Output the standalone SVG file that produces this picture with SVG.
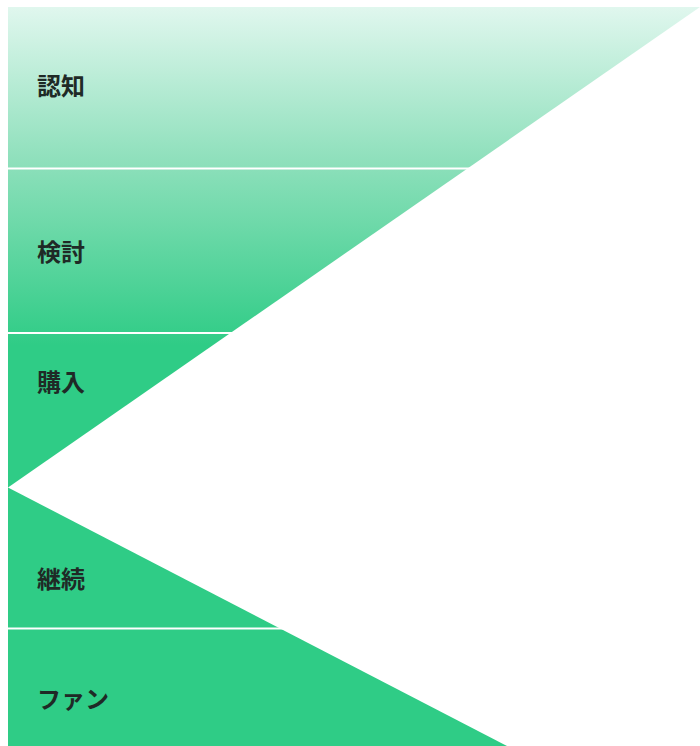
<svg xmlns="http://www.w3.org/2000/svg" width="700" height="746" viewBox="0 0 700 746">
<style>
.lbl{font-family:"Noto Sans CJK JP","Noto Sans",sans-serif;font-weight:700;font-size:24px;fill:#1f2a26;dominant-baseline:central}
.sep{stroke:#ffffff;stroke-width:2}
</style>
<defs>
<linearGradient id="g" gradientUnits="userSpaceOnUse" x1="0" y1="7" x2="0" y2="345">
<stop offset="0" stop-color="#e0f7ee"/>
<stop offset="0.45" stop-color="#8fe0bc"/>
<stop offset="1" stop-color="#2fcc86"/>
</linearGradient>
</defs>
<g id="funnel">
<polygon points="8,7 700,7 8,487.5" fill="url(#g)"/>
<polygon points="8,487.5 507,746 8,746" fill="#2fcc86"/>
</g>
<g id="connectors">
<line class="sep" x1="8" y1="168.5" x2="470" y2="168.5"/>
<line class="sep" x1="8" y1="333" x2="233" y2="333"/>
<line class="sep" x1="8" y1="628.5" x2="286" y2="628.5"/>
</g>
<g id="n1"><text class="lbl" x="37" y="84">認知</text></g>
<g id="n2"><text class="lbl" x="37" y="250">検討</text></g>
<g id="n3"><text class="lbl" x="37" y="380">購入</text></g>
<g id="n4"><text class="lbl" x="37" y="577">継続</text></g>
<g id="n5"><text class="lbl" x="37" y="697">ファン</text></g>
</svg>
